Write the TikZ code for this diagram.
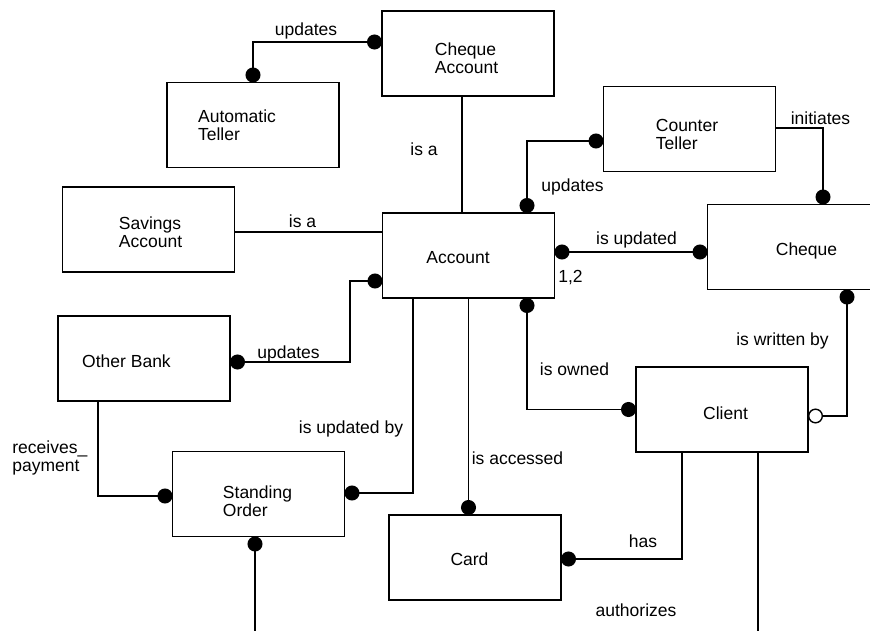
\documentclass[tikz,border=0pt]{standalone}
\usepackage{fontspec}
\setmainfont{Liberation Sans}
\usetikzlibrary{arrows.meta}
\begin{document}
\begin{tikzpicture}[x=0.5pt, y=-0.5pt,
  ent/.style={draw, line width=0.7pt, minimum width=86pt, minimum height=42.5pt, inner sep=0pt, outer sep=0pt},
  txt/.style={inner sep=0pt, align=left, font=\fontsize{8.75pt}{9pt}\selectfont},
  conn/.style={line width=0.7pt},
  ball/.tip={Circle[length=7.5pt]},
  oball/.tip={Circle[open, length=7.5pt, fill=white, line width=0.7pt]}]
\useasboundingbox (0,0) rectangle (870,630);
\clip (0,0) rectangle (870,630);

% entities
\node[ent] (chqacc)  at (468,53.5)    {};
\node[ent] (autot)   at (253,125)     {};
\node[ent] (savings) at (148.5,229.5) {};
\node[ent] (acct)    at (468.5,255.5) {};
\node[ent] (other)   at (144,358.5)   {};
\node[ent] (stand)   at (258.5,494)   {};
\node[ent] (card)    at (475,557.5)   {};
\node[ent] (client)  at (722,409.5)   {};
\node[ent] (cheque)  at (793.5,247)   {};
\node[ent] (counter) at (689.5,129)   {};

% entity names
\node[txt] (chqaccT)  at ([shift={(-1.5,4.5)}]chqacc.center)  {Cheque\\Account};
\node[txt] (autotT)   at ([shift={(-16,0)}]autot.center)      {Automatic\\Teller};
\node[txt] (savingsT) at ([shift={(2,2.5)}]savings.center)    {Savings\\Account};
\node[txt] (acctT)    at ([shift={(-10.5,2.5)}]acct.center)   {Account};
\node[txt] (otherT)   at ([shift={(-17.5,2.5)}]other.center)  {Other Bank};
\node[txt] (standT)   at ([shift={(-1,7)}]stand.center)       {Standing\\Order};
\node[txt] (cardT)    at ([shift={(-5.5,1.5)}]card.center)    {Card};
\node[txt] (clientT)  at ([shift={(3.5,3.5)}]client.center)   {Client};
\node[txt] (chequeT)  at ([shift={(13,4)}]cheque.center)      {Cheque};
\node[txt] (counterT) at ([shift={(-2.5,5)}]counter.center)   {Counter\\Teller};

% free ends of the lines leaving the drawing
\coordinate (soEnd) at (255,640);
\coordinate (clEnd) at (758,640);

% relationships
\draw[conn, ball-ball] (autot.north) |- (chqacc.west |- 0,42);
\draw[conn] (chqacc.south -| 462,0) -- (acct.north -| 462,0);
\draw[conn] (savings.east |- 0,232) -- (acct.west |- 0,232);
\draw[conn, ball-ball] (other.east |- 0,362) -- (350,362) |- (acct.west |- 0,281);
\draw[conn, -ball] (other.south -| 98,0) |- (stand.west |- 0,496);
\draw[conn, ball-] (stand.east |- 0,493) -| (acct.south -| 413,0);
\draw[conn, ball-] (stand.south -| 255,0) -- (soEnd);
\draw[conn, -ball] (acct.south) -- (acct.south |- card.north);
\draw[conn, ball-ball] (acct.south -| 527,0) |- (client.west);
\draw[conn, oball-ball] (client.east |- 0,416) -| (cheque.south -| 847,0);
\draw[conn, -ball] (client.south -| 682,0) |- (card.east |- 0,559);
\draw[conn] (client.south -| 758,0) -- (clEnd);
\draw[conn, ball-ball] (acct.east |- 0,252) -- (cheque.west |- 0,252);
\draw[conn, ball-ball] (acct.north -| 527,0) |- (counter.west |- 0,141);
\draw[conn, -ball] (counter.east |- 0,128) -| (cheque.north -| 823,0);

% relationship labels
\node[txt] (l1)  at (306,31)    {updates};
\node[txt] (l2)  at (424,149)   {is a};
\node[txt] (l3)  at (302.5,221) {is a};
\node[txt] (l4)  at (288.5,354) {updates};
\node[txt, anchor=west] (l5) at (12,458) {receives\_\\payment};
\node[txt] (l6)  at (351,429)   {is updated by};
\node[txt] (l7)  at (517.5,458) {is accessed};
\node[txt] (l8)  at (574.5,369) {is owned};
\node[txt] (l9)  at (782.5,341) {is written by};
\node[txt] (l10) at (643,541)   {has};
\node[txt] (l11) at (636,610)   {authorizes};
\node[txt] (l12) at (636.5,240) {is updated};
\node[txt] (l13) at (570.5,278) {1,2};
\node[txt] (l14) at (572.5,187) {updates};
\node[txt] (l15) at (820.5,118) {initiates};
\end{tikzpicture}
\end{document}
